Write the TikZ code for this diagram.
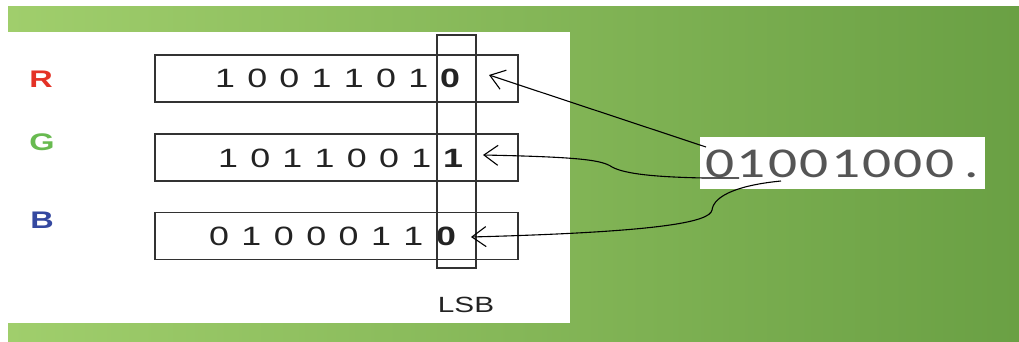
\documentclass[tikz,border=0pt]{standalone}
\usepackage{fontspec}
\setmainfont{Liberation Sans}[FakeStretch=1.35]
\newfontfamily\calfont{Carlito}[FakeStretch=1.35]
\usetikzlibrary{arrows.meta}

\definecolor{greenlight}{RGB}{160,206,108}
\definecolor{greendark}{RGB}{106,160,68}
\definecolor{chred}{RGB}{228,50,38}
\definecolor{chgreen}{RGB}{104,186,80}
\definecolor{chblue}{RGB}{52,72,160}
\definecolor{boxgray}{RGB}{50,50,50}
\definecolor{digitgray}{RGB}{35,35,35}
\definecolor{secgray}{RGB}{85,85,85}

\begin{document}
\begin{tikzpicture}[x=1pt,y=-1pt,
    rowbox/.style={draw=boxgray, line width=1.8pt, minimum width=363pt, minimum height=47pt, inner sep=0pt},
    bit/.style={font=\fontsize{26.5}{26.5}\selectfont, text=digitgray, anchor=base, inner sep=0pt},
    lsbbit/.style={bit, font=\fontsize{26.5}{26.5}\selectfont\bfseries},
    chan/.style={font=\fontsize{24}{24}\selectfont\bfseries, inner sep=0pt},
    secret/.style={font=\calfont\fontsize{42.5}{42.5}\selectfont, text=secgray, anchor=base, inner sep=0pt},
    link/.style={line width=1.1pt, -{Straight Barb[length=14pt,width=20pt]}}]

             \useasboundingbox (0,0) rectangle (1019,342);
             \fill[left color=greenlight, right color=greendark] (8,7) rectangle (1019,342);
             \fill[white] (8,32) rectangle (570,323);

             \node[chan, text=chred] (R) at (41,79) {R};
             \node[chan, text=chgreen] (G) at (42,142) {G};
             \node[chan, text=chblue] (B) at (42,220) {B};

             % the three colour bytes
             \node[rowbox] (rrow) at (336.5,78.5) {};
             \foreach \b [count=\i from 0] in {1,0,0,1,1,0,1}
               \node[bit] (r\i) at (225+32.2*\i,87.5) {\b};
             \node[lsbbit] (rlsb) at (450,87.5) {0};

             \node[rowbox] (grow) at (336.5,157.5) {};
             \foreach \b [count=\i from 0] in {1,0,1,1,0,0,1}
               \node[bit] (g\i) at (228+32.2*\i,167) {\b};
             \node[lsbbit] (glsb) at (453,167) {1};

             \node[rowbox] (brow) at (336.5,236) {};
             \foreach \b [count=\i from 0] in {0,1,0,0,0,1,1}
               \node[bit] (b\i) at (219+32.4*\i,245.5) {\b};
             \node[lsbbit] (blsb) at (446,245.5) {0};

             % column over the last bits
             \node[draw=boxgray, line width=1.8pt, minimum width=39pt, minimum height=233pt, inner sep=0pt] (lsbcol) at (456.5,151.5) {};
             \node[text=digitgray, font=\fontsize{22}{22}\selectfont, inner sep=0pt] (lsb) at (466,305) {LSB};

             % message byte
             \node[fill=white, minimum width=285pt, minimum height=52pt, inner sep=0pt] (secbox) at (842.5,163) {};
             \foreach \b [count=\i from 0] in {0,1,0,0,1,0,0,0}
               \node[secret] (s\i) at (720+31.4*\i,177) {\b};
             \node[secret] (sdot) at (972,177) {.};

             \coordinate (rtip) at (489,75);
             \coordinate (gtip) at (483,155);
             \coordinate (btip) at (471,237);
             \coordinate (rsrc) at (706,147);
             \coordinate (gsrc) at (739,178);
             \coordinate (bsrc) at (781,181);

             \draw[link] (rsrc) -- (rtip);
             \draw[link] (gsrc) -- (704,178) .. controls (655,177) and (625,174) .. (612,167)
                   .. controls (602,160) and (580,157) .. (gtip);
             \draw[link] (bsrc) .. controls (740,185) and (714,195) .. (712,210)
                   .. controls (710,222) and (660,232) .. (btip);
\end{tikzpicture}
\end{document}
